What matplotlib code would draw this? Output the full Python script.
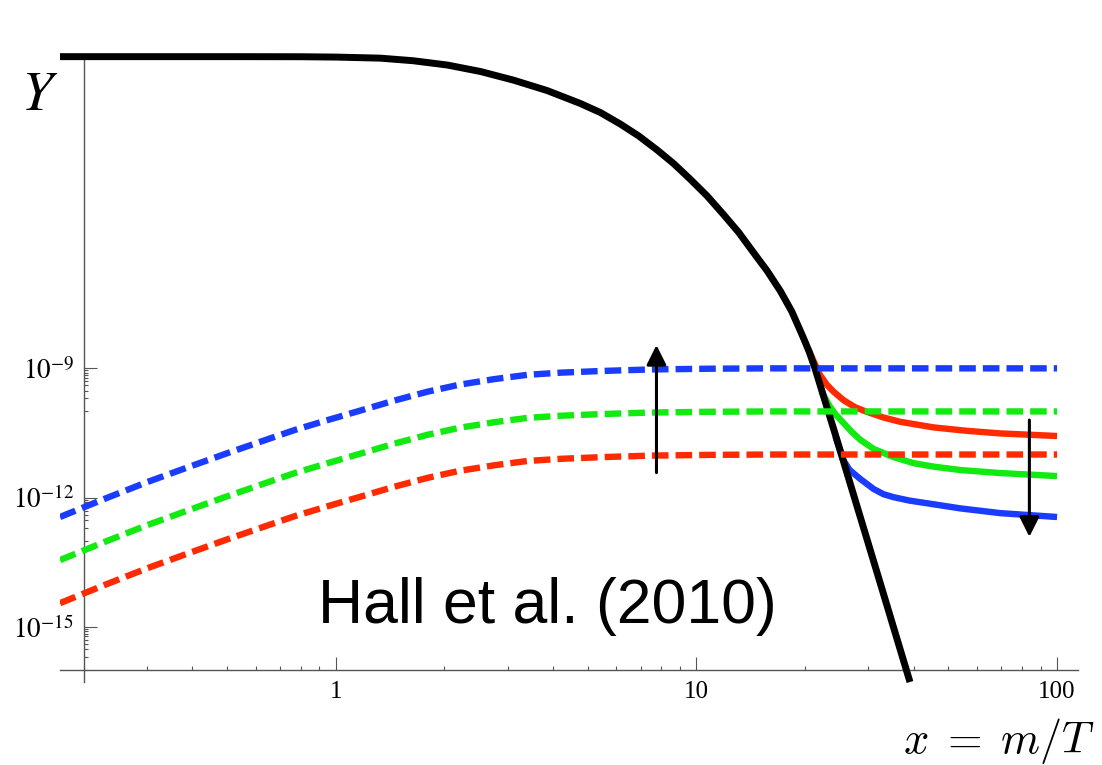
import numpy as np
import matplotlib
matplotlib.use("Agg")
import matplotlib.pyplot as plt
from matplotlib.ticker import FixedLocator, LogLocator, NullFormatter

plt.rcParams["mathtext.fontset"] = "stix"
plt.rcParams["font.family"] = ["Liberation Serif", "DejaVu Serif"]

# equilibrium yield (black), values read as log10(Y)
black_x    = [0.172, 0.5, 0.8, 1.0, 1.33, 1.64, 2.04, 2.52, 3.11, 3.85, 4.76, 5.42,
              6.16, 6.92, 7.78, 8.65, 9.62, 10.7, 11.9, 13.1, 14.4, 15.7, 17.1, 18.4,
              19.8, 20.55, 21.3, 24.6, 28.0, 31.9, 39.1]
black_logy = [-1.765, -1.765, -1.767, -1.775, -1.80, -1.86, -1.96, -2.11, -2.31, -2.55, -2.85, -3.063,
              -3.332, -3.606, -3.930, -4.248, -4.612, -4.995, -5.433, -5.844, -6.312, -6.734, -7.208, -7.686,
              -8.291, -8.616, -8.988, -10.691, -12.25, -13.82, -16.28]

# freeze-in yields (dashed)
fi_x          = [0.172, 0.23, 0.30, 0.40, 0.50, 0.63, 0.77, 0.95, 1.17, 1.45,
                 1.80, 2.2, 2.75, 3.4, 4.2, 5.5, 7.5, 11.0, 16.0, 100.0]
fi_blue_logy  = [-12.45, -12.02, -11.64, -11.26, -10.97, -10.68, -10.43, -10.20, -9.98, -9.75,
                 -9.54, -9.38, -9.25, -9.15, -9.10, -9.06, -9.025, -9.008, -9.0, -9.0]
fi_green_logy = [-13.45, -13.02, -12.64, -12.26, -11.97, -11.68, -11.43, -11.20, -10.98, -10.75,
                 -10.54, -10.38, -10.25, -10.15, -10.10, -10.06, -10.025, -10.008, -10.0, -10.0]
fi_red_logy   = [-14.45, -14.02, -13.64, -13.26, -12.97, -12.68, -12.43, -12.20, -11.98, -11.75,
                 -11.54, -11.38, -11.25, -11.15, -11.10, -11.06, -11.025, -11.008, -11.0, -11.0]

# freeze-out yields (solid)
fo_red_x      = [20.4, 22.0, 23.0, 24.0, 25.6, 27.5, 29.7, 33.0, 36.7, 45.4, 56.2, 69.5, 100.0]
fo_red_logy   = [-8.55, -9.15, -9.38, -9.54, -9.74, -9.90, -10.01, -10.14, -10.24, -10.37, -10.45, -10.51, -10.57]
fo_green_x    = [22.3, 23.5, 24.5, 25.6, 27.0, 28.5, 31.0, 35.2, 40.0, 45.4, 53.9, 69.5, 100.0]
fo_green_logy = [-9.56, -9.90, -10.10, -10.27, -10.48, -10.66, -10.87, -11.06, -11.20, -11.28, -11.36, -11.43, -11.50]
fo_blue_x     = [24.3, 25.5, 26.6, 28.5, 31.0, 33.0, 35.2, 39.0, 43.5, 53.9, 69.5, 100.0]
fo_blue_logy  = [-10.58, -11.12, -11.36, -11.57, -11.80, -11.92, -11.99, -12.07, -12.13, -12.25, -12.36, -12.45]

# arrows: (x, log10 y start, log10 y end)
arrow_up   = (7.75, -11.42, -8.46)
arrow_down = (83.8, -10.20, -12.91)

x_ticks  = [1, 10, 100]
x_labels = ["1", "10", "100"]
y_ticks  = [-9, -12, -15]

BLUE, GREEN, RED = "#1a3cff", "#12ea12", "#ff2a00"

fig = plt.figure(figsize=(11.02, 7.65), dpi=100)
W, H = 1102, 765
ax = fig.add_axes([60 / W, 1 - 682 / H, (1078 - 60) / W, (682 - 56) / H])
ax.set_xscale("log")
ax.set_yscale("log")
ax.set_xlim(0.172, 114.3)
ax.set_ylim(10 ** -16.28, 10 ** -1.75)

lw = 4.6
dash = (2.6, 1.1)
for xs, ys, c in [(fo_red_x, fo_red_logy, RED),
                  (fo_green_x, fo_green_logy, GREEN),
                  (fo_blue_x, fo_blue_logy, BLUE)]:
    ax.plot(xs, 10 ** np.array(ys), color=c, lw=lw, solid_capstyle="butt",
            solid_joinstyle="round", zorder=2)

ax.plot(black_x, 10 ** np.array(black_logy), color="black", lw=5.0,
        solid_capstyle="butt", solid_joinstyle="round", zorder=3, clip_on=False)

for ys, c in [(fi_blue_logy, BLUE), (fi_green_logy, GREEN), (fi_red_logy, RED)]:
    ax.plot(fi_x, 10 ** np.array(ys), color=c, lw=lw, dashes=dash, zorder=4)

for xa, y0, y1 in [arrow_up, arrow_down]:
    ax.annotate("", xy=(xa, 10 ** y1), xytext=(xa, 10 ** y0),
                arrowprops=dict(arrowstyle="-|>,head_length=0.4,head_width=0.2",
                                mutation_scale=30, lw=2.2, color="black",
                                shrinkA=0, shrinkB=0), zorder=5)

# axes crossing like the original: y axis at x=0.2, x axis at Y=1e-16
for s in ["top", "right"]:
    ax.spines[s].set_visible(False)
ax.spines["left"].set_position(("data", 0.2))
ax.spines["bottom"].set_position(("data", 1e-16))
for s in ["left", "bottom"]:
    ax.spines[s].set_color("#555555")
    ax.spines[s].set_linewidth(1.0)

ax.xaxis.set_major_locator(FixedLocator(x_ticks))
ax.set_xticklabels(x_labels)
ax.xaxis.set_minor_locator(LogLocator(base=10, subs=np.arange(2, 10)))
ax.xaxis.set_minor_formatter(NullFormatter())

ax.yaxis.set_major_locator(FixedLocator([10.0 ** p for p in y_ticks]))
ax.set_yticklabels([f"$10^{{{p}}}$" for p in y_ticks])
ax.yaxis.set_minor_locator(FixedLocator([k * 10.0 ** (p - 1) for p in y_ticks for k in range(1, 10)]))
ax.yaxis.set_minor_formatter(NullFormatter())

ax.tick_params(which="both", direction="in", color="#555555", width=0.8)
ax.tick_params(which="major", length=9.5, labelsize=18)
ax.tick_params(axis="y", which="major", labelsize=19.5)
ax.tick_params(which="minor", length=3)
ax.tick_params(axis="x", which="major", pad=8)
ax.tick_params(axis="y", which="major", pad=7)

fig.text(40 / W, 1 - 96 / H, "$Y$", fontsize=40, ha="center", va="center")
fig.text(1095 / W, 1 - 753 / H, r"$x\;=\;m/T$", fontsize=32, ha="right",
         va="baseline", math_fontfamily="cm")
fig.text(547 / W, 1 - 623 / H, "Hall et al. (2010)", fontsize=45, ha="center",
         va="baseline", family=["Liberation Sans", "DejaVu Sans"])

fig.savefig("out.png", dpi=100)
